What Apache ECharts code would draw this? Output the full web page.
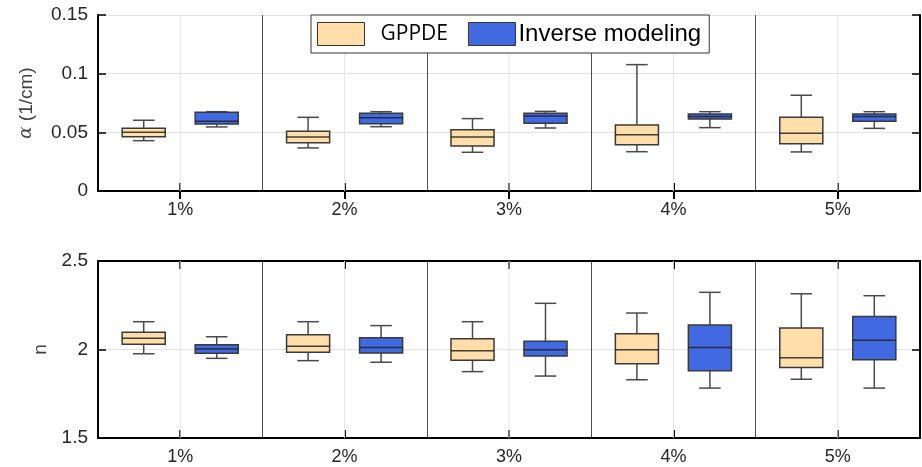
<!DOCTYPE html>
<html>
<head>
<meta charset="utf-8">
<script src="https://cdn.jsdelivr.net/npm/echarts@6/dist/echarts.min.js"></script>
<style>html,body{margin:0;padding:0;background:#fff}#c{width:922px;height:467px}</style>
</head>
<body>
<div id="c"></div>
<script>
// ---- data ----
const categories = ['1%', '2%', '3%', '4%', '5%'];
// each item: [min, Q1, median, Q3, max]
const alphaGPPDE = [
  [0.0429, 0.0463, 0.0500, 0.0534, 0.0603],
  [0.0367, 0.0412, 0.0460, 0.0509, 0.0628],
  [0.0330, 0.0384, 0.0460, 0.0523, 0.0617],
  [0.0335, 0.0395, 0.0480, 0.0563, 0.1077],
  [0.0333, 0.0403, 0.0492, 0.0628, 0.0816]
];
const alphaInverse = [
  [0.0546, 0.0571, 0.0594, 0.0671, 0.0676],
  [0.0548, 0.0574, 0.0625, 0.0662, 0.0676],
  [0.0537, 0.0577, 0.0639, 0.0662, 0.0679],
  [0.0540, 0.0614, 0.0634, 0.0656, 0.0676],
  [0.0534, 0.0594, 0.0634, 0.0656, 0.0676]
];
const nGPPDE = [
  [1.976, 2.029, 2.063, 2.097, 2.157],
  [1.937, 1.984, 2.018, 2.084, 2.157],
  [1.875, 1.939, 1.993, 2.061, 2.157],
  [1.829, 1.920, 1.999, 2.089, 2.206],
  [1.832, 1.899, 1.954, 2.121, 2.315]
];
const nInverse = [
  [1.950, 1.979, 2.003, 2.027, 2.072],
  [1.928, 1.980, 2.012, 2.067, 2.135],
  [1.850, 1.963, 1.999, 2.046, 2.261],
  [1.782, 1.880, 2.012, 2.138, 2.323],
  [1.782, 1.942, 2.052, 2.187, 2.304]
];
const alphaTicks = { min: 0, max: 0.15, interval: 0.05 };
const nTicks = { min: 1.5, max: 2.5, interval: 0.5 };

// ---- styles ----
const COL_G = '#FFDEAA';
const COL_I = '#4169E1';
const TXT = '#262626';
const FONT = 'Liberation Sans';

function withIndex(arr) { return arr.map((v, i) => [i].concat(v)); }

function boxRender(offsetFrac) {
  return function (params, api) {
    const idx = api.value(0);
    const band = api.size([1, 0])[0];
    const cx = api.coord([idx, api.value(3)])[0] + offsetFrac * band;
    const yy = k => api.coord([idx, api.value(k)])[1];
    const bw = 0.262 * band, cw = bw / 2;
    const yMin = yy(1), yQ1 = yy(2), yMed = yy(3), yQ3 = yy(4), yMax = yy(5);
    const wStyle = { stroke: '#4a4a4a', lineWidth: 1.5 };
    const fill = api.visual('color');
    return {
      type: 'group',
      children: [
        { type: 'line', shape: { x1: cx, y1: yQ3, x2: cx, y2: yMax }, style: wStyle },
        { type: 'line', shape: { x1: cx, y1: yQ1, x2: cx, y2: yMin }, style: wStyle },
        { type: 'line', shape: { x1: cx - cw / 2, y1: yMax, x2: cx + cw / 2, y2: yMax }, style: wStyle },
        { type: 'line', shape: { x1: cx - cw / 2, y1: yMin, x2: cx + cw / 2, y2: yMin }, style: wStyle },
        { type: 'rect', shape: { x: cx - bw / 2, y: yQ3, width: bw, height: yQ1 - yQ3 },
          style: { fill: fill, stroke: '#3a3a3a', lineWidth: 1.5 } },
        { type: 'line', shape: { x1: cx - bw / 2, y1: yMed, x2: cx + bw / 2, y2: yMed },
          style: { stroke: '#222', lineWidth: 1.5, opacity: 0.85 } }
      ]
    };
  };
}

function centerGridRender(params, api) {
  const idx = api.value(0);
  const x = api.coord([idx, api.value(1)])[0];
  const cs = params.coordSys;
  return {
    type: 'line',
    shape: { x1: x, y1: cs.y, x2: x, y2: cs.y + cs.height },
    style: { stroke: '#e3e3e3', lineWidth: 1 }
  };
}

function xAxes(gridIndex, showLabels) {
  const common = {
    type: 'category', data: categories, gridIndex: gridIndex, boundaryGap: true,
    axisLine: { show: true, lineStyle: { color: '#000', width: 2 } },
    axisTick: { show: true, inside: true, alignWithLabel: true, length: 8, lineStyle: { color: '#000', width: 2 } }
  };
  return [
    Object.assign({}, common, {
      position: 'bottom',
      axisLabel: { show: showLabels, color: TXT, fontSize: 18, fontFamily: FONT, margin: 10 },
      splitLine: { show: true, lineStyle: { color: '#4d4d4d', width: 1 } }
    }),
    Object.assign({}, common, {
      position: 'top', axisLabel: { show: false }, splitLine: { show: false }
    })
  ];
}

function yAxes(gridIndex, ticks, name, nameGap) {
  const common = {
    type: 'value', gridIndex: gridIndex, min: ticks.min, max: ticks.max, interval: ticks.interval,
    axisLine: { show: true, lineStyle: { color: '#000', width: 2 } },
    axisTick: { show: true, inside: true, length: 8, lineStyle: { color: '#000', width: 1.5 } }
  };
  return [
    Object.assign({}, common, {
      position: 'left',
      name: name, nameLocation: 'middle', nameGap: nameGap,
      nameTextStyle: { color: '#404040', fontSize: 19, fontFamily: FONT,
        rich: { a: { fontStyle: 'italic', fontFamily: 'DejaVu Serif', fontSize: 18, color: '#404040' } } },
      axisLabel: { color: TXT, fontSize: 19, fontFamily: FONT, margin: 10 },
      splitLine: { show: true, lineStyle: { color: '#e3e3e3', width: 1 } }
    }),
    Object.assign({}, common, {
      position: 'right', axisLabel: { show: false }, splitLine: { show: false }
    })
  ];
}

const chart = echarts.init(document.getElementById('c'), null, { renderer: 'canvas' });

const idxData = categories.map((c, i) => [i, 0]);
const idxDataN = categories.map((c, i) => [i, 2]);

const option = {
  animation: false,
  backgroundColor: '#fff',
  grid: [
    { left: 98, right: 2, top: 15, height: 176 },
    { left: 98, right: 2, top: 261, height: 177 }
  ],
  legend: {
    left: 311, top: 15,
    orient: 'horizontal',
    backgroundColor: '#fff', borderColor: '#333', borderWidth: 1,
    padding: [7, 8, 7, 6],
    itemWidth: 47, itemHeight: 23, itemGap: 20,
    icon: 'rect',
    z: 10,
    data: [
      { name: 'GPPDE', itemStyle: { color: COL_G, borderColor: '#333', borderWidth: 1 },
        textStyle: { fontFamily: 'Open Sans', fontSize: 21, color: '#000', padding: [5, 0, 0, 11] } },
      { name: 'Inverse modeling', itemStyle: { color: COL_I, borderColor: '#333', borderWidth: 1 },
        textStyle: { fontFamily: FONT, fontSize: 24, color: '#000', padding: [0, 0, 0, -2] } }
    ]
  },
  xAxis: xAxes(0, true).concat(xAxes(1, true)),
  yAxis: yAxes(0, alphaTicks, '{a|α} (1/cm)', 62).concat(yAxes(1, nTicks, 'n', 42)),
  series: [
    { type: 'custom', name: 'grid-a', xAxisIndex: 0, yAxisIndex: 0, z: 1, silent: true,
      renderItem: centerGridRender, data: idxData, encode: { x: 0, y: 1 } },
    { type: 'custom', name: 'grid-n', xAxisIndex: 2, yAxisIndex: 2, z: 1, silent: true,
      renderItem: centerGridRender, data: idxDataN, encode: { x: 0, y: 1 } },
    { type: 'custom', name: 'GPPDE', xAxisIndex: 0, yAxisIndex: 0, z: 3,
      itemStyle: { color: COL_G }, renderItem: boxRender(-0.222),
      data: withIndex(alphaGPPDE), encode: { x: 0, y: [1, 2, 3, 4, 5] } },
    { type: 'custom', name: 'Inverse modeling', xAxisIndex: 0, yAxisIndex: 0, z: 3,
      itemStyle: { color: COL_I }, renderItem: boxRender(0.222),
      data: withIndex(alphaInverse), encode: { x: 0, y: [1, 2, 3, 4, 5] } },
    { type: 'custom', name: 'GPPDE', xAxisIndex: 2, yAxisIndex: 2, z: 3,
      itemStyle: { color: COL_G }, renderItem: boxRender(-0.222),
      data: withIndex(nGPPDE), encode: { x: 0, y: [1, 2, 3, 4, 5] } },
    { type: 'custom', name: 'Inverse modeling', xAxisIndex: 2, yAxisIndex: 2, z: 3,
      itemStyle: { color: COL_I }, renderItem: boxRender(0.222),
      data: withIndex(nInverse), encode: { x: 0, y: [1, 2, 3, 4, 5] } }
  ]
};
chart.setOption(option);
</script>
</body>
</html>
